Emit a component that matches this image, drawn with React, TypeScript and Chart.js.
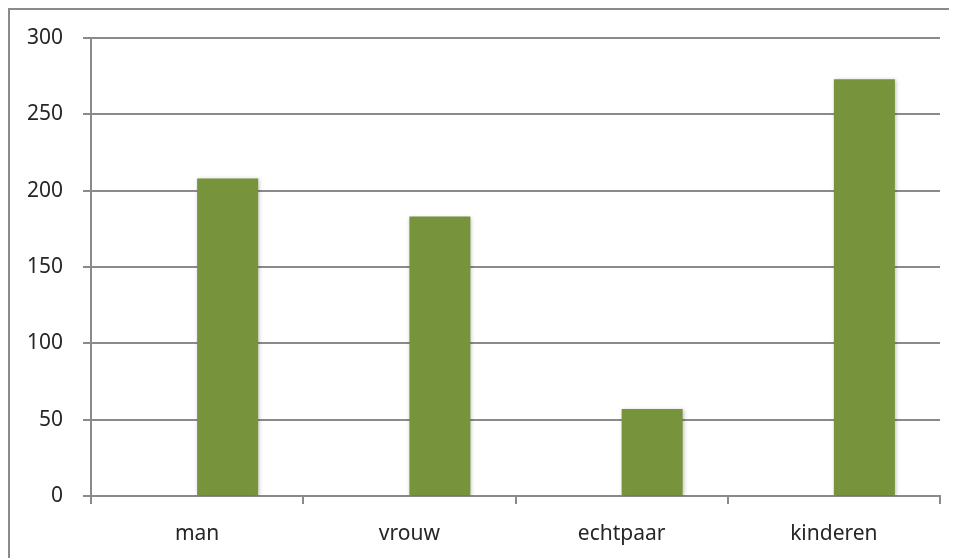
import React, { useEffect, useRef } from "react";
import { Chart, registerables } from "chart.js";

Chart.register(...registerables);

const categories = ["man", "vrouw", "echtpaar", "kinderen"];
const emptySeries = [null, null, null, null];
const values = [208, 183, 57, 273];
const yTicks = [0, 50, 100, 150, 200, 250, 300];

const GRID = "#8a8a8a";
const TEXT = "#262626";
const FONT = "'Noto Sans', sans-serif";

const shadowPlugin = {
  id: "barShadow",
  beforeDatasetsDraw(chart: any) {
    const ctx = chart.ctx;
    ctx.save();
    ctx.shadowColor = "rgba(0,0,0,0.25)";
    ctx.shadowBlur = 4;
    ctx.shadowOffsetX = 1;
    ctx.shadowOffsetY = 1;
  },
  afterDatasetsDraw(chart: any) {
    chart.ctx.restore();
  },
};

export default function App() {
  const ref = useRef<HTMLCanvasElement>(null);
  useEffect(() => {
    const chart = new Chart(ref.current!, {
      type: "bar",
      data: {
        labels: categories,
        datasets: [
          { label: "a", data: emptySeries as any, backgroundColor: "#77933C" },
          { label: "b", data: values, backgroundColor: "#77933C" },
        ],
      },
      plugins: [shadowPlugin],
      options: {
        animation: false,
        responsive: false,
        maintainAspectRatio: false,
        layout: { autoPadding: false, padding: { top: 28, right: 17, left: 0, bottom: 0 } },
        datasets: { bar: { categoryPercentage: 0.575, barPercentage: 1 } },
        plugins: { legend: { display: false }, tooltip: { enabled: false } },
        scales: {
          x: {
            grid: {
              offset: true,
              drawOnChartArea: false,
              drawTicks: true,
              tickLength: 8,
              color: GRID,
              lineWidth: 2,
            },
            border: { color: GRID, width: 2 },
            ticks: { color: TEXT, font: { family: FONT, size: 21 }, padding: 17, maxRotation: 0 },
            afterFit(scale: any) {
              scale.height = 62;
            },
          },
          y: {
            min: 0,
            max: 300,
            afterBuildTicks(scale: any) {
              scale.ticks = yTicks.map((v) => ({ value: v }));
            },
            grid: { color: GRID, lineWidth: 2, tickLength: 8, drawTicks: true },
            border: { color: GRID, width: 2 },
            ticks: { color: TEXT, font: { family: FONT, size: 21 }, padding: 20 },
            afterFit(scale: any) {
              scale.width = 81;
              scale.paddingTop = 0;
              scale.paddingBottom = 0;
            },
          },
        },
      },
    });
    return () => chart.destroy();
  }, []);
  return (
    <div
      style={{
        width: 947,
        height: 548,
        borderLeft: `2px solid ${GRID}`,
        borderTop: `2px solid ${GRID}`,
        background: "#fff",
      }}
    >
      <canvas ref={ref} width={947} height={548} style={{ display: "block" }} />
    </div>
  );
}
